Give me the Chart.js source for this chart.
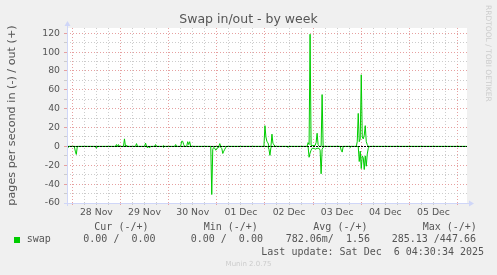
<!DOCTYPE html>
<html>
<head>
<meta charset="utf-8">
<script src="https://cdn.jsdelivr.net/npm/chart.js@4"></script>
<style>
  body { margin: 0; background: #f0f0f0; }
  #wrap { position: relative; width: 497px; height: 275px; font-family: "DejaVu Sans", sans-serif; color: #555; }
  canvas { position: absolute; left: 0; top: 0; }
  .t { position: absolute; white-space: pre; line-height: 1; }
  .mono { font-family: "DejaVu Sans Mono", monospace; font-size: 10px; }
  .sq { position: absolute; left: 14px; top: 237px; width: 6px; height: 6px; background: #00cc00; }
</style>
</head>
<body>
<div id="wrap">
  <canvas id="chart" width="497" height="275"></canvas>
  <div class="t" style="left:0;width:497px;text-align:center;top:12.5px;font-size:12.5px;color:#555">Swap in/out - by week</div>
  <div class="t" style="left:484px;top:5px;font-size:7.5px;color:#ccc;writing-mode:vertical-rl">RRDTOOL / TOBI OETIKER</div>
  <div class="t mono" style="left:94.3px;top:221.5px">Cur (-/+)</div>
  <div class="t mono" style="left:203.7px;top:221.5px">Min (-/+)</div>
  <div class="t mono" style="left:313.3px;top:221.5px">Avg (-/+)</div>
  <div class="t mono" style="left:422.7px;top:221.5px">Max (-/+)</div>
  <div class="sq"></div>
  <div class="t mono" style="left:26.7px;top:234.2px">swap</div>
  <div class="t mono" style="left:83.3px;top:234.2px">0.00 /  0.00</div>
  <div class="t mono" style="left:190.7px;top:234.2px">0.00 /  0.00</div>
  <div class="t mono" style="left:285.7px;top:234.2px">782.06m/  1.56</div>
  <div class="t mono" style="left:391.7px;top:234.2px">285.13 /447.66</div>
  <div class="t mono" style="left:261.3px;top:246.5px">Last update: Sat Dec  6 04:30:34 2025</div>
  <div class="t" style="left:0;width:497px;text-align:center;top:260.8px;font-size:7px;color:#ccc">Munin 2.0.75</div>
</div>
<script>
  // hours since 28 Nov 00:00
  const dayLabels = ['28 Nov', '29 Nov', '30 Nov', '01 Dec', '02 Dec', '03 Dec', '04 Dec', '05 Dec'];
  const yTicks = [-60, -50, -40, -30, -20, -10, 0, 10, 20, 30, 40, 50, 60, 70, 80, 90, 100, 110, 120];

  // swap out (+), pages per second
  const outHours = [
    -2.5,
    21.5, 22, 22.5, 23, 23.5,
    25.5, 26, 26.5, 27, 27.5,
    31.5, 32, 32.5,
    36, 36.5, 37,
    41, 41.5, 42,
    45, 45.5, 46,
    51, 51.5, 52,
    54, 54.5, 55, 55.5, 56,
    57, 57.5, 58, 58.5, 59,
    73, 73.5, 74,
    95.5, 96, 96.5, 97, 97.5, 98,
    99, 99.5, 100, 100.5, 101,
    117, 117.5, 118, 118.5, 119, 119.5, 120, 121, 121.5, 122, 122.5, 123,
    124, 124.5, 125,
    141.5, 142, 142.5, 143, 143.5, 144, 144.5, 145, 145.5, 146, 146.5, 147, 147.5,
    196.5
  ];
  const outValues = [
    0,
    0, 2, 0, 2, 0,
    0, 8, 0, 1.5, 0,
    0, 3, 0,
    0, 3.5, 0,
    0, 2, 0,
    0, 1, 0,
    0, 2, 0,
    0, 5.5, 5.5, 2, 0,
    0, 5, 2, 5, 0,
    0, 3, 0,
    0, 22, 10, 5, 4, 0,
    0, 13, 3, 2, 0,
    0, 4, 2, 119, 1, 1, 1, 1, 4, 14, 2, 0,
    0, 55, 0,
    0, 5, 35, 5, 8, 76, 10, 8, 12, 22, 5, 2, 0,
    0
  ];

  // swap in (-), pages per second
  const inHours = [
    -2.5, -2, -1.5,
    1, 1.5, 2, 2.5,
    11.5, 12, 12.5,
    37, 37.5, 38, 38.5, 39,
    45, 45.5, 46,
    69, 69.5, 70, 70.5, 71, 71.5, 72, 72.5, 73, 73.5, 74, 74.5, 75, 75.5, 76, 76.5, 77,
    97.5, 98, 98.5, 99, 99.5,
    107, 107.5, 108,
    117.5, 118, 118.5, 119, 119.5, 120.5, 121, 122, 123, 123.5, 124, 124.5, 125, 125.5,
    133.5, 134, 134.5, 135,
    138, 138.5, 139,
    142.5, 143, 143.5, 144, 144.5, 145, 145.5, 146, 146.5, 147, 147.5, 148,
    196.5
  ];
  const inValues = [
    2, 1, 0,
    0, 5, 8.5, 0,
    0, 2, 0,
    0, 1.5, 0, 1.5, 0,
    0, 1, 0,
    0, 51, 3, 1, 2, 4, 3, 1, 1, 0, 1, 2, 7.5, 5, 3, 1, 0,
    0, 3, 9.5, 1, 0,
    0, 1, 0,
    0, 11.5, 7, 4, 2, 2, 3, 2, 2, 4, 29, 3, 1, 0,
    0, 4, 6, 0,
    0, 1, 0,
    0, 16, 5, 23.5, 10, 12, 24.5, 10, 21, 8, 2, 0,
    0
  ];

  const green = '#00cc00';
  const minorGrid = '#cccccc';
  const majorGrid = '#e6a0a0';
  const axisColor = '#cfd6f8';

  const muninPlugin = {
    id: 'munin',
    beforeDraw(c) {
      const { ctx, chartArea: a } = c;
      ctx.save();
      ctx.fillStyle = '#ffffff';
      ctx.fillRect(a.left, a.top, a.right - a.left, a.bottom - a.top);
      ctx.restore();
    },
    afterDatasetsDraw(c) {
      const { ctx, chartArea: a } = c;
      const y0 = Math.round(c.scales.y.getPixelForValue(0)) + 0.5;
      ctx.save();
      ctx.strokeStyle = '#000000';
      ctx.lineWidth = 1;
      ctx.setLineDash([2, 1]);
      ctx.beginPath();
      ctx.moveTo(a.left, y0);
      ctx.lineTo(a.right, y0);
      ctx.stroke();
      ctx.setLineDash([]);
      // axes with arrows
      const lx = a.left + 0.5, by = a.bottom + 0.5;
      ctx.strokeStyle = axisColor;
      ctx.fillStyle = axisColor;
      ctx.beginPath();
      ctx.moveTo(lx, a.bottom + 3);
      ctx.lineTo(lx, a.top - 3);
      ctx.moveTo(a.left - 3, by);
      ctx.lineTo(a.right + 3, by);
      ctx.stroke();
      ctx.beginPath();
      ctx.moveTo(lx, a.top - 7);
      ctx.lineTo(lx - 3, a.top - 2);
      ctx.lineTo(lx + 3, a.top - 2);
      ctx.closePath();
      ctx.fill();
      ctx.beginPath();
      ctx.moveTo(a.right + 7, by);
      ctx.lineTo(a.right + 2, by - 3);
      ctx.lineTo(a.right + 2, by + 3);
      ctx.closePath();
      ctx.fill();
      ctx.restore();
    }
  };

  const xTicks = [];
  for (let h = 0; h <= 192; h += 6) xTicks.push(h);

  new Chart(document.getElementById('chart'), {
    type: 'line',
    data: {
      datasets: [
        {
          label: 'in',
          data: inHours.map((h, i) => ({ x: h, y: -inValues[i] })),
          borderColor: green,
          borderWidth: 1,
          pointRadius: 0
        },
        {
          label: 'out',
          data: outHours.map((h, i) => ({ x: h, y: outValues[i] })),
          borderColor: green,
          borderWidth: 1,
          pointRadius: 0
        }
      ]
    },
    options: {
      responsive: false,
      animation: false,
      devicePixelRatio: 1,
      layout: { padding: { left: 0, right: 30, top: 28, bottom: 0 } },
      plugins: { legend: { display: false }, tooltip: { enabled: false } },
      scales: {
        x: {
          type: 'linear',
          min: -2.64,
          max: 196.7,
          afterBuildTicks: axis => { axis.ticks = xTicks.map(v => ({ value: v })); },
          afterFit: s => { s.height = 72; },
          grid: {
            color: ctx => (ctx.tick && ctx.tick.value % 24 === 0 ? majorGrid : minorGrid),
            tickLength: 2
          },
          border: { display: false, dash: [1, 2] },
          ticks: {
            autoSkip: false,
            maxRotation: 0,
            padding: 2,
            color: '#555',
            font: { family: 'DejaVu Sans', size: 9.3 },
            callback: v => (v % 24 === 12 ? dayLabels[(v - 12) / 24] : '')
          }
        },
        y: {
          min: -60,
          max: 125.6,
          afterBuildTicks: axis => { axis.ticks = yTicks.map(v => ({ value: v })); },
          afterFit: s => { s.width = 67; },
          grid: {
            color: ctx => (ctx.tick && ctx.tick.value % 20 === 0 ? majorGrid : minorGrid),
            tickLength: 3
          },
          border: { display: false, dash: [1, 2] },
          title: {
            display: true,
            text: 'pages per second in (-) / out (+)',
            color: '#555',
            font: { family: 'DejaVu Sans', size: 11.2 },
            padding: { top: 5, bottom: 0 }
          },
          ticks: {
            autoSkip: false,
            padding: 4,
            color: '#555',
            font: { family: 'DejaVu Sans', size: 9.3 },
            callback: v => (v % 20 === 0 ? String(v) : '')
          }
        }
      }
    },
    plugins: [muninPlugin]
  });
</script>
</body>
</html>
